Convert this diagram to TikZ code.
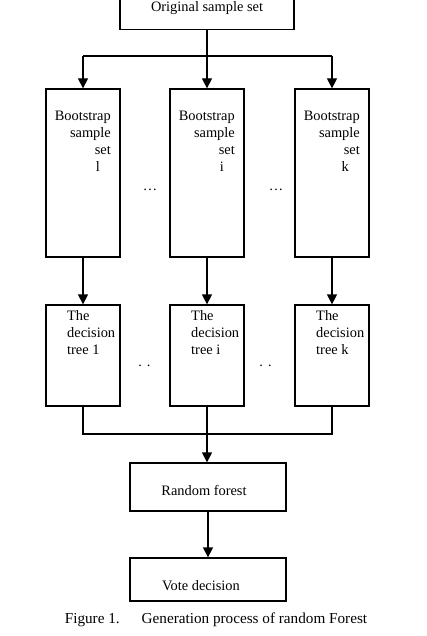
\documentclass[tikz,border=0pt]{standalone}
\usepackage{fontspec}
\setmainfont{Liberation Serif}
\usetikzlibrary{arrows.meta}
\begin{document}
\begin{tikzpicture}[x=1pt,y=-1pt,
  box/.style={draw, line width=1.3pt, inner sep=0pt},
  txt/.style={inner sep=0pt, font=\fontsize{14.4}{17}\selectfont},
  conn/.style={line width=1.3pt},
  arr/.style={line width=1.3pt, -{Triangle[length=10pt,width=10pt]}}]
\useasboundingbox (0,0) rectangle (427,636);
\clip (0,0) rectangle (427,636);
% top box
\node[box, minimum width=174, minimum height=60, anchor=south] (orig) at (207,30) {};
\node[txt] (origtext) at (207,8) {Original sample set};
\coordinate (split) at (207,56);
\coordinate (s1) at (83,56);
\coordinate (sk) at (332,56);
% bootstrap boxes
\node[box, minimum width=74, minimum height=168] (b1) at (83,173) {};
\node[box, minimum width=74, minimum height=168] (bi) at (207,173) {};
\node[box, minimum width=74, minimum height=168] (bk) at (332,173) {};
\node[txt, align=right, anchor=north east] (b1t) at (111,111) {Bootstrap\\sample\\set\hspace*{5pt}\\l\hspace*{11pt}};
\node[txt, align=right, anchor=north east] (bit) at (235,111) {Bootstrap\\sample\\set\hspace*{5pt}\\i\hspace*{11pt}};
\node[txt, align=right, anchor=north east] (bkt) at (360,111) {Bootstrap\\sample\\set\hspace*{5pt}\\k\hspace*{11pt}};
\node[txt] (d1) at (150,190) {\ldots};
\node[txt] (d2) at (276,190) {\ldots};
% decision boxes
\node[box, minimum width=74, minimum height=101] (t1) at (83,355.5) {};
\node[box, minimum width=74, minimum height=101] (ti) at (207,355.5) {};
\node[box, minimum width=74, minimum height=101] (tk) at (332,355.5) {};
\node[txt, align=left, anchor=north west] (t1t) at (67,310) {The\\decision\\tree 1};
\node[txt, align=left, anchor=north west] (tit) at (191,310) {The\\decision\\tree i};
\node[txt, align=left, anchor=north west] (tkt) at (316,310) {The\\decision\\tree k};
\node[txt] (e1) at (144.5,366) {.\hspace{5pt}.};
\node[txt] (e2) at (265.5,366) {.\hspace{5pt}.};
\coordinate (m1) at (83,434);
\coordinate (mk) at (332,434);
\coordinate (merge) at (207,434);
% random forest
\node[box, minimum width=156, minimum height=48] (rf) at (208,487) {};
\node[txt] (rft) at (204,490) {Random forest};
\node[box, minimum width=156, minimum height=43] (vd) at (208,579.5) {};
\node[txt] (vdt) at (201,585.5) {Vote decision};
\node[inner sep=0pt, font=\fontsize{15.2}{18}\selectfont] (cap) at (216,620) {Figure 1.\hspace{22pt}Generation process of random Forest};
% connectors
\draw[conn] (orig.south) -- (split);
\draw[conn] (s1) -- (sk);
\draw[arr] (s1) -- (b1.north);
\draw[arr] (split) -- (bi.north);
\draw[arr] (sk) -- (bk.north);
\draw[arr] (b1.south) -- (t1.north);
\draw[arr] (bi.south) -- (ti.north);
\draw[arr] (bk.south) -- (tk.north);
\draw[conn] (t1.south) -- (m1) -- (mk) -- (tk.south);
\draw[conn] (ti.south) -- (merge);
\draw[arr] (merge) -- (merge |- rf.north);
\draw[arr] (rf.south) -- (vd.north);
\end{tikzpicture}
\end{document}
